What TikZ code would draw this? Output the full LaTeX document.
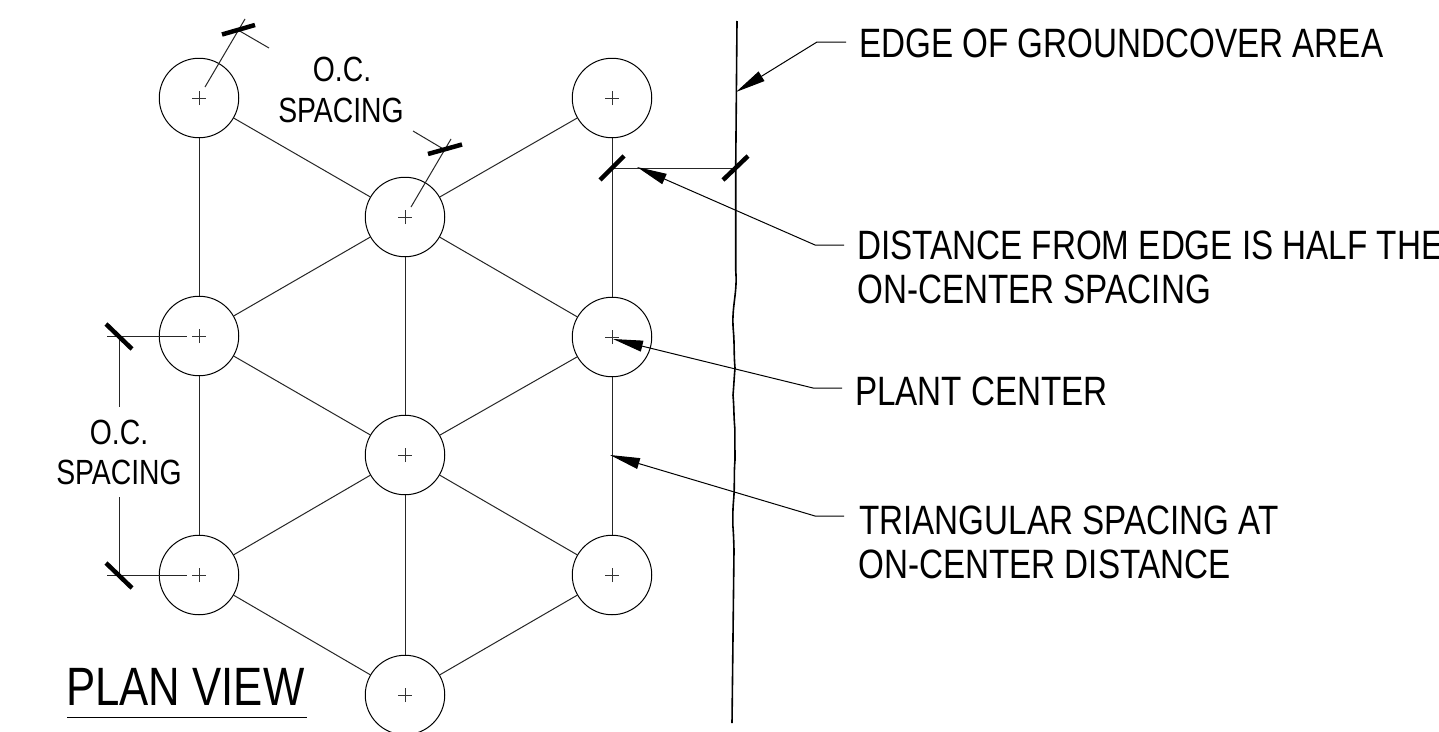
\documentclass[tikz,border=0pt]{standalone}
\usepackage{fontspec}
\usetikzlibrary{arrows.meta}
\newfontfamily\cadfont[FakeStretch=0.81]{Liberation Sans}
\tikzset{
  x=1pt,y=-1pt,
  plant/.style={circle,draw=black,line width=1pt,inner sep=0pt,outer sep=0pt,minimum size=79.5pt,
    path picture={\draw[line width=0.7pt,black!80] (path picture bounding box.center) ++(-7pt,0) -- ++(14pt,0)
      (path picture bounding box.center) ++(0,-7pt) -- ++(0,14pt);}},
  web/.style={line width=1pt,black!85},
  dim/.style={line width=1pt,black!85},
  tickmark/.style={line width=4.5pt},
  edgeline/.style={line width=1.6pt,line join=round},
  leader/.style={line width=1pt,-{Triangle[length=30pt,width=11pt]}},
  big/.style={inner sep=0pt,anchor=base west,font=\cadfont\fontsize{41}{41}\selectfont},
  mid/.style={inner sep=0pt,anchor=base,font=\cadfont\fontsize{35}{35}\selectfont},
}
\begin{document}
\begin{tikzpicture}
\clip (0,0) rectangle (1439,731);
\useasboundingbox (0,0) rectangle (1439,731);
\fill[white] (0,0) rectangle (1439,731);
% plants
\node[plant] (a1) at (199,98) {};
\node[plant] (a2) at (199,336) {};
\node[plant] (a3) at (199,575) {};
\node[plant] (b1) at (405,217) {};
\node[plant] (b2) at (405,455) {};
\node[plant] (b3) at (405,695) {};
\node[plant] (c1) at (612,98) {};
\node[plant] (c2) at (612,337) {};
\node[plant] (c3) at (612,575) {};
% triangular web
\draw[web] (a1)--(a2) (a2)--(a3) (b1)--(b2) (b2)--(b3) (c1)--(c2) (c2)--(c3);
\draw[web] (a1)--(b1) (c1)--(b1) (b1)--(a2) (b1)--(c2) (a2)--(b2) (c2)--(b2)
  (b2)--(a3) (b2)--(c3) (a3)--(b3) (c3)--(b3);
% edge of groundcover
\coordinate (e0) at (737,21);
\coordinate (e1) at (735.7,170);
\coordinate (e2) at (735.7,270);
\coordinate (e3) at (733.3,330);
\coordinate (e4) at (735,368);
\coordinate (e5) at (733,395);
\coordinate (e6) at (734.8,428);
\coordinate (e7) at (735,460);
\coordinate (e8) at (733.6,500);
\coordinate (e9) at (732.8,525);
\coordinate (e10) at (734,550);
\coordinate (e11) at (732,723);
\draw[edgeline] (e0)--(e1)--(e2) to[out=-85,in=95] (e3) to[out=-85,in=95] (e4)
  to[out=-95,in=85] (e5) to[out=-85,in=95] (e6) -- (e7) to[out=-95,in=85] (e8)
  to[out=-95,in=90] (e9) to[out=-85,in=92] (e10) -- (e11);
% dimensions, upper left
\coordinate (d1a) at (205,87); \coordinate (d1b) at (245,19);
\coordinate (d1c) at (238,30); \coordinate (d1d) at (269,48);
\coordinate (t1a) at (222,34.5); \coordinate (t1b) at (255,25);
\draw[dim] (d1a)--(d1b) (d1c)--(d1d);
\draw[tickmark] (t1a)--(t1b);
\coordinate (d2a) at (411,207); \coordinate (d2b) at (451,139);
\coordinate (d2c) at (413,131); \coordinate (d2d) at (445,150);
\coordinate (t2a) at (428,154); \coordinate (t2b) at (462,144.5);
\draw[dim] (d2a)--(d2b) (d2c)--(d2d);
\draw[tickmark] (t2a)--(t2b);
% half-spacing dimension
\coordinate (d3a) at (612,168); \coordinate (d3b) at (735,168);
\coordinate (t3a) at (600,180); \coordinate (t3b) at (624,156);
\coordinate (t4a) at (723,180); \coordinate (t4b) at (748,156);
\draw[dim] (d3a)--(d3b);
\draw[tickmark] (t3a)--(t3b) (t4a)--(t4b);
% left dimension
\coordinate (d4a) at (107,336); \coordinate (d4b) at (187,336);
\coordinate (d5a) at (107,575); \coordinate (d5b) at (187,575);
\coordinate (d6a) at (119,336); \coordinate (d6b) at (119,407);
\coordinate (d7a) at (119,497); \coordinate (d7b) at (119,575);
\coordinate (t5a) at (106,324); \coordinate (t5b) at (132,349);
\coordinate (t6a) at (106,563); \coordinate (t6b) at (132,588);
\draw[dim] (d4a)--(d4b) (d5a)--(d5b) (d6a)--(d6b) (d7a)--(d7b);
\draw[tickmark] (t5a)--(t5b) (t6a)--(t6b);
% dimension labels
\node[mid] (oc1) at (342,81) {O.C.};
\node[mid] (sp1) at (341,122) {SPACING};
\node[mid] (oc2) at (119,444) {O.C.};
\node[mid] (sp2) at (119,484) {SPACING};
% callouts
\node[big] (l1) at (859,57) {EDGE OF GROUNDCOVER AREA};
\node[big] (l2) at (857,259) {DISTANCE FROM EDGE IS HALF THE};
\node[big] (l2b) at (857,303) {ON-CENTER SPACING};
\node[big] (l3) at (855,405) {PLANT CENTER};
\node[big] (l4) at (859,534) {TRIANGULAR SPACING AT};
\node[big] (l4b) at (858,578) {ON-CENTER DISTANCE};
\coordinate (p1a) at (846,42); \coordinate (p1b) at (817,42); \coordinate (p1c) at (736,92);
\coordinate (p2a) at (844,245); \coordinate (p2b) at (815,245); \coordinate (p2c) at (637,167);
\coordinate (p3a) at (842,388); \coordinate (p3b) at (813,388); \coordinate (p3c) at (613,339);
\coordinate (p4a) at (844,516); \coordinate (p4b) at (815,516); \coordinate (p4c) at (610,455);
\draw[leader] (p1a)--(p1b)--(p1c);
\draw[leader] (p2a)--(p2b)--(p2c);
\draw[leader] (p3a)--(p3b)--(p3c);
\draw[leader] (p4a)--(p4b)--(p4c);
% title
\node[inner sep=0pt,anchor=base west,font=\cadfont\fontsize{54}{54}\selectfont] (title) at (66,705) {PLAN VIEW};
\coordinate (u1) at (67,717); \coordinate (u2) at (307,717);
\draw[line width=1pt] (u1)--(u2);
\end{tikzpicture}
\end{document}
